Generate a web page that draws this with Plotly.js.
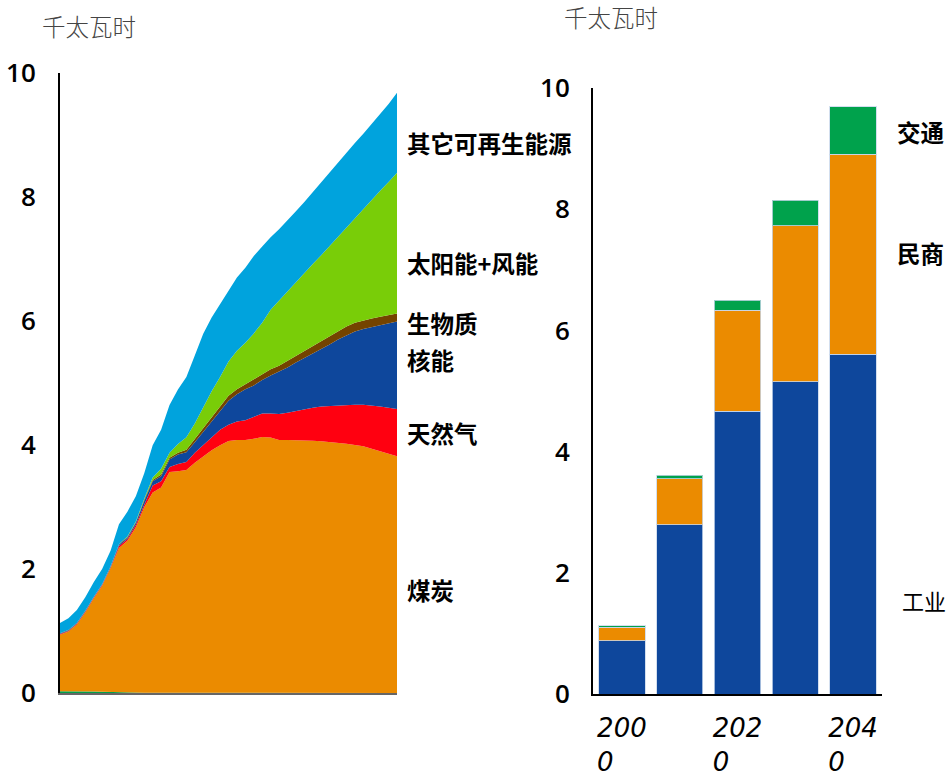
<!DOCTYPE html>
<html>
<head>
<meta charset="utf-8">
<script src="https://cdn.plot.ly/plotly-3.0.1.min.js"></script>
<style>html,body{margin:0;padding:0;background:#fff;}#chart{width:948px;height:778px;}</style>
</head>
<body>
<div id="chart"></div>
<script>
// ---- Left chart: generation by source (thousand TWh), 2000-2040 ----
const years = [2000,2001,2002,2003,2004,2005,2006,2007,2008,2009,2010,2011,2012,2013,2014,2015,2016,2017,2018,2019,2020,2021,2022,2023,2024,2025,2026,2027,2028,2029,2030,2031,2032,2033,2034,2035,2036,2037,2038,2039,2040];
const oil      = [0.03,0.03,0.035,0.03,0.025,0.02,0.015,0.01,0.005,0.005,0.005,0.005,0.005,0.005,0.005,0.005,0.005,0.005,0.005,0.005,0.005,0,0,0,0,0,0,0,0,0,0,0,0,0,0,0,0,0,0,0,0];
const coal     = [0.91,0.96,1.07,1.27,1.50,1.71,2.00,2.33,2.45,2.67,2.99,3.23,3.31,3.56,3.57,3.59,3.71,3.81,3.91,3.99,4.06,4.08,4.08,4.10,4.13,4.12,4.08,4.08,4.08,4.07,4.07,4.06,4.05,4.04,4.02,4.00,3.98,3.94,3.90,3.86,3.82];
const gas      = [0.01,0.01,0.01,0.01,0.01,0.01,0.01,0.03,0.03,0.04,0.04,0.11,0.10,0.08,0.12,0.13,0.16,0.18,0.20,0.25,0.26,0.30,0.32,0.35,0.38,0.39,0.42,0.44,0.47,0.51,0.53,0.56,0.58,0.60,0.63,0.65,0.67,0.70,0.72,0.74,0.76];
const nuclear  = [0.01,0.01,0.01,0.01,0.01,0.01,0.015,0.02,0.02,0.03,0.06,0.07,0.08,0.12,0.15,0.16,0.17,0.22,0.26,0.30,0.39,0.44,0.50,0.51,0.54,0.61,0.68,0.73,0.78,0.82,0.88,0.93,0.99,1.06,1.12,1.18,1.22,1.26,1.31,1.36,1.41];
const biomass  = [0.005,0.005,0.005,0.005,0.005,0.005,0.005,0.01,0.01,0.01,0.02,0.02,0.03,0.03,0.03,0.04,0.05,0.06,0.07,0.08,0.08,0.08,0.08,0.09,0.09,0.10,0.10,0.11,0.11,0.12,0.12,0.13,0.14,0.14,0.14,0.14,0.14,0.14,0.14,0.14,0.13];
const solarWind= [0,0,0,0,0,0,0,0,0.01,0.01,0.02,0.04,0.09,0.08,0.14,0.20,0.25,0.34,0.42,0.47,0.55,0.62,0.67,0.75,0.83,0.96,1.05,1.11,1.18,1.25,1.32,1.38,1.45,1.52,1.60,1.69,1.79,1.91,2.03,2.14,2.27];
const otherRen = [0.165,0.19,0.21,0.22,0.235,0.245,0.25,0.32,0.40,0.41,0.41,0.52,0.63,0.77,0.88,0.97,1.10,1.18,1.19,1.18,1.15,1.18,1.21,1.25,1.23,1.17,1.15,1.15,1.15,1.15,1.16,1.18,1.19,1.19,1.20,1.21,1.22,1.23,1.24,1.26,1.29];

// ---- Right chart: consumption by sector (thousand TWh) ----
const barYears  = [2000,2010,2020,2030,2040];
const industry  = [0.88,2.79,4.67,5.15,5.61];
const resComm   = [0.22,0.76,1.66,2.58,3.30];
const transport = [0.03,0.06,0.17,0.42,0.78];
const barTickVals = [2000,2020,2040];
const barTickText = ["200<br>0\u2007\u2007","202<br>0\u2007\u2007","204<br>0\u2007\u2007"];

const leftLabels  = ["其它可再生能源","太阳能+风能","生物质","核能","天然气","煤炭"];
const rightLabels = ["交通","民商","工业"];
const unitLabel = "千太瓦时";

function area(name, y, color){
  return {type:'scatter', mode:'lines', x:years, y:y, name:name, stackgroup:'one',
    line:{width:0, color:color}, fillcolor:color, xaxis:'x', yaxis:'y', hoverinfo:'x+y+name'};
}
function bar(name, y, color){
  return {type:'bar', x:barYears, y:y, name:name, xaxis:'x2', yaxis:'y2', width:8,
    marker:{color:color, line:{width:1, color:'rgba(200,215,235,0.8)'}}};
}

const traces = [
  area('石油', oil, '#00a04a'),
  area('煤炭', coal, '#eb8b00'),
  area('天然气', gas, '#ff0010'),
  area('核能', nuclear, '#0e479c'),
  area('生物质', biomass, '#744300'),
  area('太阳能+风能', solarWind, '#79cd08'),
  area('其它可再生能源', otherRen, '#00a3dd'),
  bar('工业', industry, '#0e479c'),
  bar('民商', resComm, '#eb8b00'),
  bar('交通', transport, '#00a24c')
];

const W = 948, H = 778;
const px = v => v / W;
const py = v => 1 - v / H;
const tickFont = {family:'Open Sans, Lato, sans-serif', size:26, color:'#000', weight:600};
const labFont = {family:'Noto Sans CJK SC', size:23.5, color:'#000', weight:700};

const annotations = [];
const leftY = [143, 263, 323, 360, 433, 590];
leftLabels.forEach((t,i)=>annotations.push({text:t, xref:'paper', yref:'paper', x:px(405), y:py(leftY[i]), xanchor:'left', yanchor:'middle', showarrow:false, font:labFont}));
const rightY = [132, 253, 600];
const rightX = [895, 895, 900];
rightLabels.forEach((t,i)=>annotations.push({text:t, xref:'paper', yref:'paper', x:px(rightX[i]), y:py(rightY[i]), xanchor:'left', yanchor:'middle', showarrow:false,
  font: i===2 ? {family:'Noto Sans CJK SC', size:22, color:'#000', weight:400} : labFont}));
annotations.push({text:unitLabel, xref:'paper', yref:'paper', x:px(40), y:py(26), xanchor:'left', yanchor:'middle', showarrow:false, font:{family:'Noto Sans CJK SC', size:23.5, color:'#444', weight:300}});
annotations.push({text:unitLabel, xref:'paper', yref:'paper', x:px(562), y:py(17), xanchor:'left', yanchor:'middle', showarrow:false, font:{family:'Noto Sans CJK SC', size:23.5, color:'#444', weight:300}});

const layout = {
  width: W, height: H,
  margin:{l:0, r:0, t:0, b:0},
  paper_bgcolor:'#fff', plot_bgcolor:'rgba(0,0,0,0)',
  showlegend:false,
  xaxis:{domain:[px(60), px(397)], range:[2000,2040], showgrid:false, zeroline:false,
    showticklabels:false, ticks:'', showline:true, linecolor:'#666', linewidth:2, anchor:'y'},
  yaxis:{domain:[py(693), py(73)], range:[0,10], tickvals:[0,2,4,6,8,10], showgrid:false, zeroline:false,
    showline:true, linecolor:'#000', linewidth:2, ticks:'outside', ticklen:17, tickcolor:'rgba(0,0,0,0)',
    tickfont:tickFont, anchor:'x'},
  xaxis2:{domain:[px(593), px(882)], range:[1995,2045], tickvals:barTickVals, ticktext:barTickText,
    showgrid:false, zeroline:false, showline:true, linecolor:'#000', linewidth:2,
    ticks:'outside', ticklen:10, tickcolor:'rgba(0,0,0,0)', tickangle:0,
    tickfont:{family:'DejaVu Sans', size:26, color:'#000', style:'italic'}, anchor:'y2'},
  yaxis2:{domain:[py(694), py(88)], range:[0,10], tickvals:[0,2,4,6,8,10], showgrid:false, zeroline:false,
    showline:true, linecolor:'#000', linewidth:2, ticks:'outside', ticklen:16, tickcolor:'rgba(0,0,0,0)',
    tickfont:tickFont, anchor:'x2'},
  barmode:'stack',
  annotations: annotations
};

Plotly.newPlot('chart', traces, layout, {displayModeBar:false, staticPlot:true});
</script>
</body>
</html>
